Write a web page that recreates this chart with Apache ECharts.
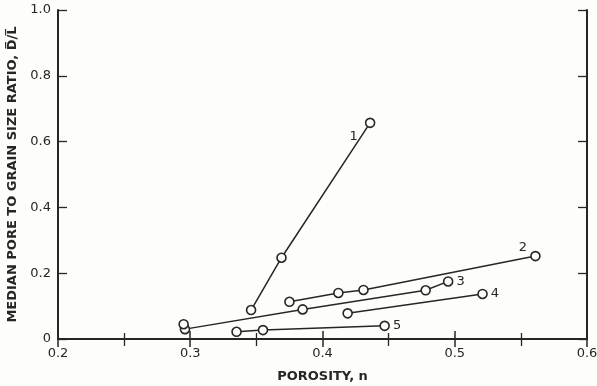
<!DOCTYPE html>
<html>
<head>
<meta charset="utf-8">
<script src="https://cdn.jsdelivr.net/npm/echarts@6/dist/echarts.min.js"></script>
<style>
  html, body { margin: 0; padding: 0; background: #fdfdfa; }
  #chart { width: 597px; height: 386px; }
</style>
</head>
<body>
<div id="chart"></div>
<script>
// Median pore to grain size ratio versus porosity, five packings
const xTicks = [0.2, 0.3, 0.4, 0.5, 0.6];
const yTicks = [0, 0.2, 0.4, 0.6, 0.8, 1.0];

const curve1 = [[0.346, 0.088], [0.369, 0.247], [0.436, 0.657]];
const curve2 = [[0.375, 0.113], [0.412, 0.140], [0.431, 0.149], [0.561, 0.252]];
const curve3 = [[0.296, 0.030], [0.385, 0.090], [0.478, 0.148], [0.495, 0.175]];
const curve4 = [[0.419, 0.078], [0.521, 0.137]];
const curve5 = [[0.335, 0.022], [0.355, 0.027], [0.447, 0.040]];
const loosePoints = [[0.295, 0.045]];

const curveNames = ['1', '2', '3', '4', '5'];
const curves = [curve1, curve2, curve3, curve4, curve5];

const ink = '#262626';
const paper = '#fdfdfa';
const labelFont = { fontFamily: 'DejaVu Sans', fontSize: 13, color: ink };
const titleFont = { fontFamily: 'DejaVu Sans', fontWeight: 'bold', fontSize: 13, color: ink };

// where each curve's number sits relative to its last point
const numberPlacement = [
  { position: 'left', offset: [-4, 14] },
  { position: 'left', offset: [0, -8] },
  { position: 'right', offset: [0, 0] },
  { position: 'right', offset: [0, 0] },
  { position: 'right', offset: [0, 0] }
];

const markerStyle = { color: paper, borderColor: ink, borderWidth: 1.6, opacity: 1 };

const lineSeries = curves.map((pts, i) => ({
  name: curveNames[i],
  type: 'line',
  data: pts.map((p, j) => j === pts.length - 1
    ? { value: p, label: Object.assign({ show: true, formatter: curveNames[i], distance: 3,
        fontFamily: 'DejaVu Sans', fontSize: 13, color: ink }, numberPlacement[i]) }
    : { value: p }),
  symbol: 'circle',
  symbolSize: 9,
  showSymbol: true,
  itemStyle: markerStyle,
  lineStyle: { color: ink, width: 1.5 },
  z: 3,
  animation: false
}));

const looseSeries = {
  type: 'scatter',
  data: loosePoints,
  symbol: 'circle',
  symbolSize: 9,
  itemStyle: markerStyle,
  z: 4,
  animation: false
};

const chart = echarts.init(document.getElementById('chart'));
chart.setOption({
  backgroundColor: paper,
  animation: false,
  grid: { left: 58, right: 10, top: 10, bottom: 47, outerBoundsMode: 'none', containLabel: false },
  xAxis: [
    {
      type: 'value', position: 'bottom',
      min: xTicks[0], max: xTicks[xTicks.length - 1], interval: 0.1,
      axisLine: { lineStyle: { color: ink, width: 2 } },
      axisTick: { inside: true, length: 8, lineStyle: { color: ink, width: 1.5 } },
      minorTick: { show: true, splitNumber: 2, length: 6, lineStyle: { color: ink, width: 1.3 } },
      splitLine: { show: false },
      axisLabel: Object.assign({ margin: 8, formatter: v => {
        const t = xTicks.find(k => Math.abs(k - v) < 1e-6);
        return t === undefined ? '' : t.toFixed(1);
      } }, labelFont),
      name: 'POROSITY, n', nameLocation: 'middle', nameGap: 31,
      nameTextStyle: titleFont
    },
    {
      type: 'value', position: 'top',
      min: xTicks[0], max: xTicks[xTicks.length - 1], interval: 0.1,
      axisLine: { lineStyle: { color: ink, width: 2 } },
      axisTick: { inside: true, length: 8, lineStyle: { color: ink, width: 1.5 } },
      minorTick: { show: true, splitNumber: 2, length: 7, lineStyle: { color: ink, width: 1.3 } },
      splitLine: { show: false },
      axisLabel: { show: false }
    }
  ],
  yAxis: [
    {
      type: 'value', position: 'left',
      min: yTicks[0], max: yTicks[yTicks.length - 1], interval: 0.2,
      axisLine: { lineStyle: { color: ink, width: 2 } },
      axisTick: { inside: true, length: 9, lineStyle: { color: ink, width: 1.3 } },
      splitLine: { show: false },
      axisLabel: Object.assign({ margin: 7, formatter: v => {
        const t = yTicks.find(k => Math.abs(k - v) < 1e-6);
        return t === undefined ? '' : (t === 0 ? '0' : t.toFixed(1));
      } }, labelFont),
      name: 'MEDIAN PORE TO GRAIN SIZE RATIO, D\u0305/L\u0305', nameLocation: 'middle', nameGap: 39,
      nameTextStyle: titleFont
    },
    {
      type: 'value', position: 'right',
      min: yTicks[0], max: yTicks[yTicks.length - 1], interval: 0.2,
      axisLine: { lineStyle: { color: ink, width: 2 } },
      axisTick: { inside: true, length: 9, lineStyle: { color: ink, width: 1.3 } },
      splitLine: { show: false },
      axisLabel: { show: false }
    }
  ],
  series: lineSeries.concat([looseSeries])
});
</script>
</body>
</html>
